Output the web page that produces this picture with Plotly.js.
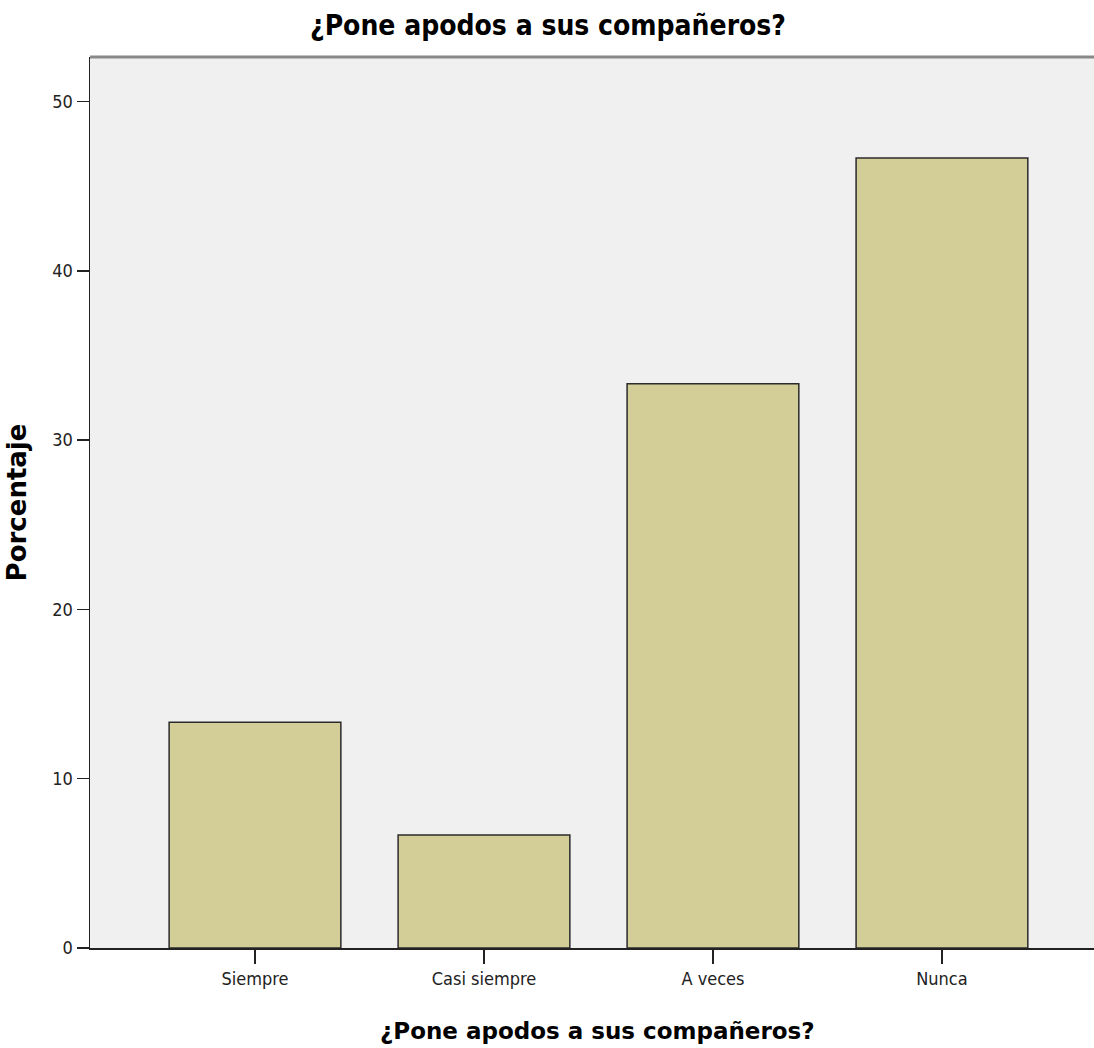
<!DOCTYPE html>
<html>
<head>
<meta charset="utf-8">
<script src="https://cdn.plot.ly/plotly-3.0.1.min.js"></script>
<style>html,body{margin:0;padding:0;background:#fff;}#chart{width:1094px;height:1048px;}</style>
</head>
<body>
<div id="chart"></div>
<script>
const categories = ["Siempre", "Casi siempre", "A veces", "Nunca"];
const percentages = [13.33, 6.67, 33.33, 46.67];
const yTickValues = [0, 10, 20, 30, 40, 50];
const chartTitle = "¿Pone apodos a sus compañeros?";
const xTitle = "¿Pone apodos a sus compañeros?";
const yTitle = "Porcentaje";

const narrow = '"Liberation Sans Narrow", "Arial Narrow", "DejaVu Sans Condensed", sans-serif';
const wide = '"DejaVu Sans", Verdana, sans-serif';

const trace = {
  type: 'bar',
  x: categories,
  y: percentages,
  width: 0.75,
  marker: {color: '#d3ce97', line: {color: '#2b2b2b', width: 1.5}},
  hoverinfo: 'x+y'
};

const layout = {
  width: 1094, height: 1048,
  margin: {l: 90, r: 0, t: 57, b: 100},
  paper_bgcolor: '#ffffff',
  plot_bgcolor: '#f0f0f0',
  showlegend: false,
  title: {
    text: '<b>' + chartTitle + '</b>',
    font: {family: narrow, size: 28, color: '#000'},
    xref: 'container', yref: 'container',
    x: 548/1094, y: 1 - 25/1048, xanchor: 'center', yanchor: 'middle'
  },
  xaxis: {
    type: 'category',
    range: [-0.7205, 3.664],
    showgrid: false, zeroline: false,
    showline: true, linecolor: '#222', linewidth: 1.5,
    ticks: 'outside', ticklen: 14, tickwidth: 1.5, tickcolor: '#222',
    tickfont: {family: narrow, size: 18, color: '#222'},
    fixedrange: true
  },
  yaxis: {
    range: [0, 52.63],
    tickvals: yTickValues,
    showgrid: false, zeroline: false,
    showline: true, linecolor: '#222', linewidth: 1.5,
    ticks: 'outside', ticklen: 12, tickwidth: 1.5, tickcolor: '#222',
    tickfont: {family: narrow, size: 18, color: '#222'},
    title: {text: '<b>' + yTitle + '</b>', font: {family: wide, size: 26, color: '#000'}, standoff: 18},
    fixedrange: true
  },
  annotations: [{
    text: '<b>' + xTitle + '</b>',
    xref: 'paper', yref: 'paper',
    x: (597 - 90) / 1004, y: -(1031 - 948) / 891,
    xanchor: 'center', yanchor: 'middle',
    showarrow: false,
    font: {family: wide, size: 23, color: '#000'}
  }],
  shapes: [{
    type: 'line', xref: 'paper', yref: 'paper',
    x0: 0, x1: 1, y0: 1, y1: 1,
    line: {color: '#888888', width: 3}
  }]
};

Plotly.newPlot('chart', [trace], layout, {displayModeBar: false, staticPlot: true});
</script>
</body>
</html>
